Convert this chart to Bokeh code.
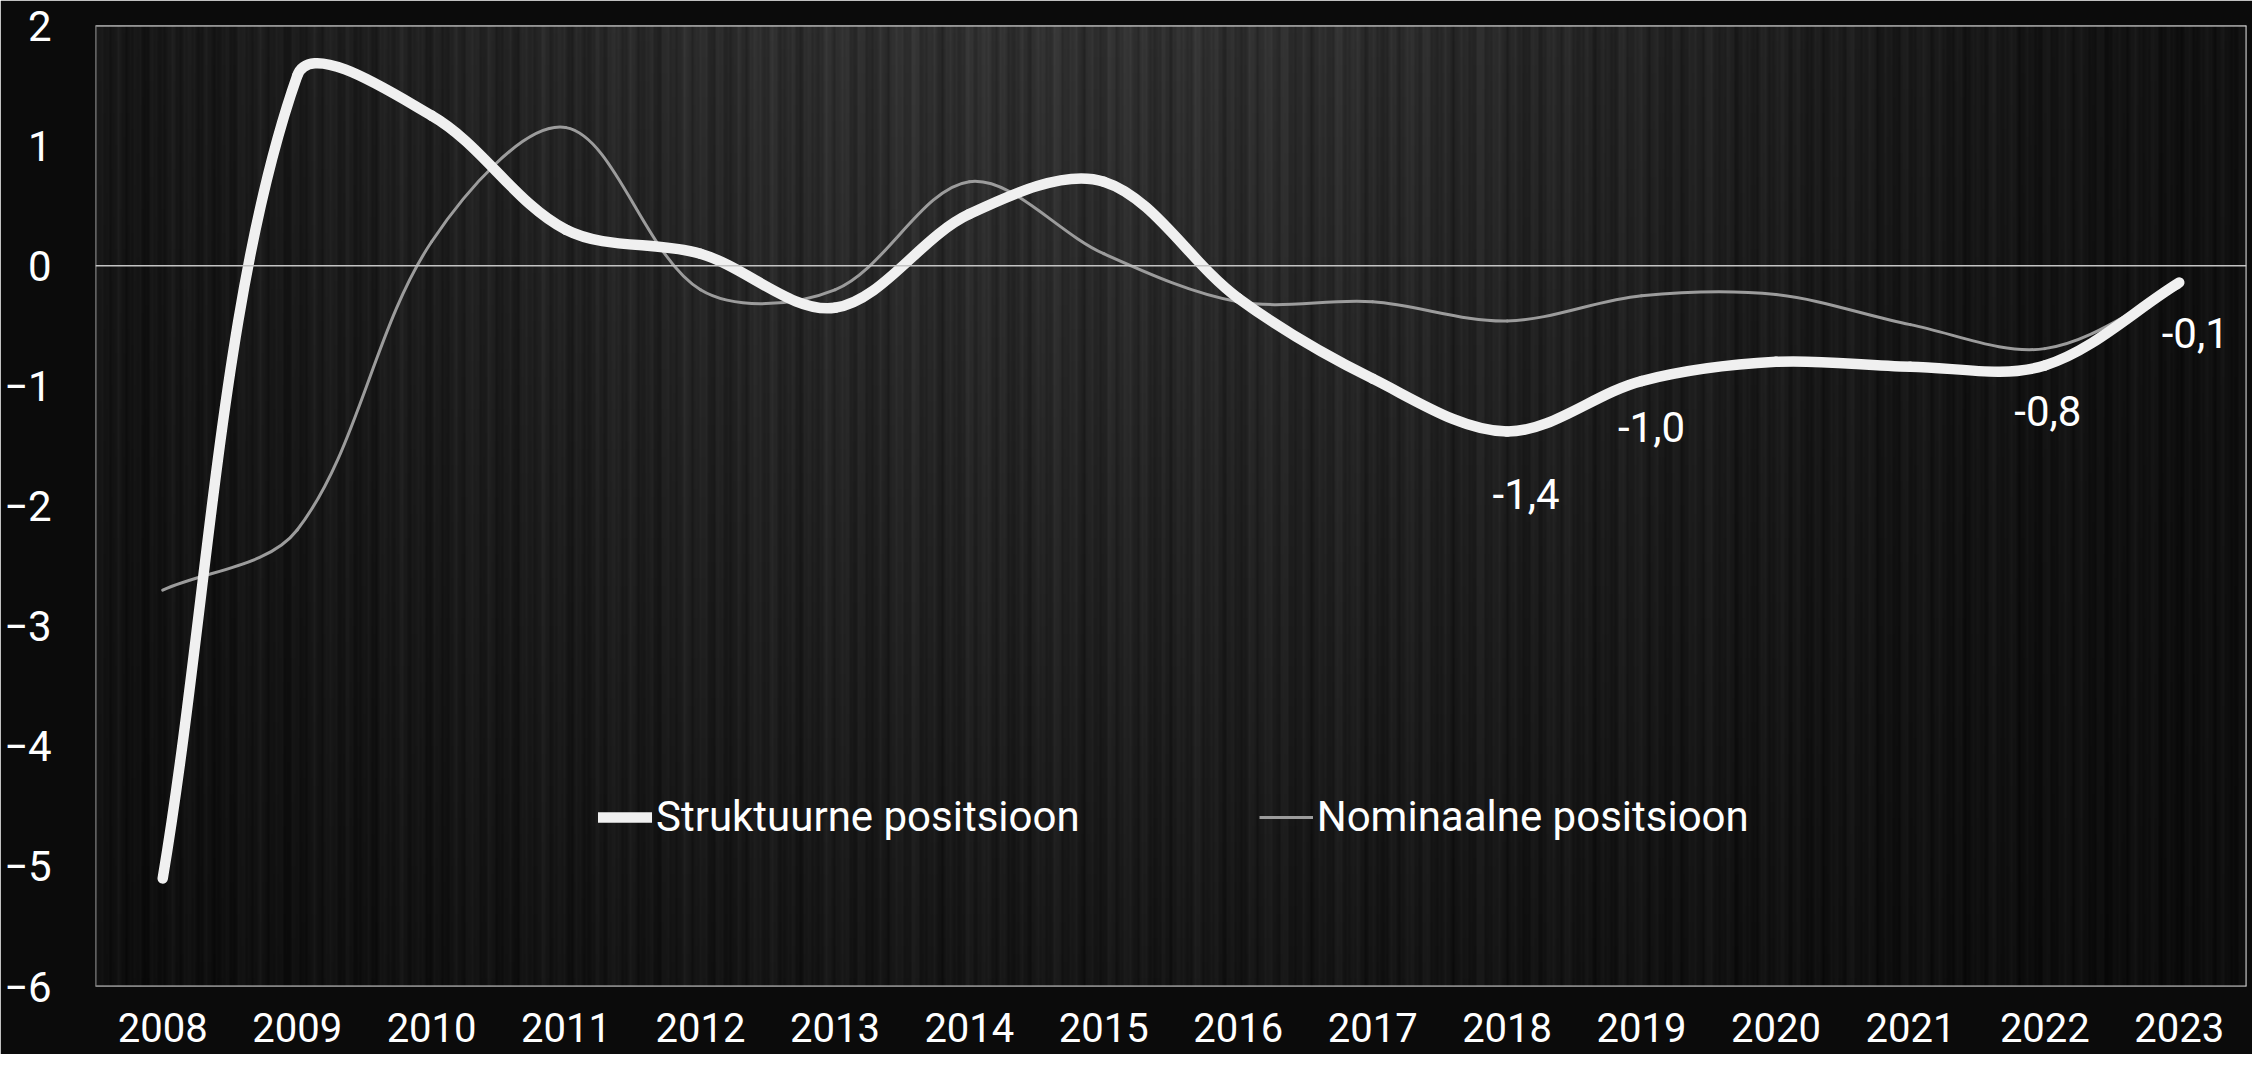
import numpy as np
from bokeh.plotting import figure
from bokeh.models import ColumnDataSource, FixedTicker, Span, Legend, LegendItem
from bokeh.core.properties import value
from bokeh.embed import file_html
from bokeh.resources import INLINE

# ---------------- data ----------------
years = [2008, 2009, 2010, 2011, 2012, 2013, 2014, 2015,
         2016, 2017, 2018, 2019, 2020, 2021, 2022, 2023]
year_labels = [str(y) for y in years]
struktuurne = [-5.1, 1.58, 1.25, 0.3, 0.1, -0.35, 0.43, 0.7,
               -0.27, -0.94, -1.38, -0.96, -0.8, -0.84, -0.83, -0.14]
nominaalne = [-2.7, -2.2, 0.2, 1.15, -0.2, -0.2, 0.7, 0.1,
              -0.3, -0.3, -0.46, -0.25, -0.24, -0.49, -0.69, -0.18]
labelled_years = [2018, 2019, 2022, 2023]
y_ticks = [-6, -5, -4, -3, -2, -1, 0, 1, 2]
series_names = ["Struktuurne positsioon", "Nominaalne positsioon"]

# ---------------- style ----------------
FONT = "Roboto"
FS = "42px"
FS_X = "40px"
label_x_offsets = [19, 10, 3, 16]
label_y_offsets = [62, 46, 46, 50]
PX_X = 134.4   # screen px per year (used for smoothing geometry)
PX_Y = 120.1   # screen px per unit


def smooth_segments(xs, ys):
    """Excel-style smoothed line: cubic Bezier segments through the data points,
    tangents scaled by neighbouring chord lengths (screen space)."""
    n = len(xs)

    def dist(i, j):
        return float(np.hypot((xs[j] - xs[i]) * PX_X, (ys[j] - ys[i]) * PX_Y))

    d = dict(x0=[], y0=[], x1=[], y1=[], cx0=[], cy0=[], cx1=[], cy1=[])
    for i in range(n - 1):
        a = max(i - 1, 0)
        b = min(i + 2, n - 1)
        d_prev, d_cur, d_next = dist(a, i), dist(i, i + 1), dist(i + 1, b)
        f0 = d_cur / (d_prev + d_cur) / 3.0
        f1 = d_cur / (d_cur + d_next) / 3.0
        d["x0"].append(xs[i]); d["y0"].append(ys[i])
        d["x1"].append(xs[i + 1]); d["y1"].append(ys[i + 1])
        d["cx0"].append(xs[i] + (xs[i + 1] - xs[a]) * f0)
        d["cy0"].append(ys[i] + (ys[i + 1] - ys[a]) * f0)
        d["cx1"].append(xs[i + 1] - (xs[b] - xs[i]) * f1)
        d["cy1"].append(ys[i + 1] - (ys[b] - ys[i]) * f1)
    return ColumnDataSource(d)


p = figure(frame_width=2151, frame_height=961,
           x_range=(2007.5, 2023.5), y_range=(-6, 2),
           output_backend="svg", toolbar_location=None,
           min_border_left=83, min_border_top=25, min_border_right=6,
           min_border_bottom=68,
           border_fill_color="#0b0b0b", background_fill_color="#1a1a1a",
           outline_line_color=None)

# brushed-metal like background texture (decoration only)
W, H = 1076, 120
cols = np.arange(W)
xn = cols / W
streak = (0.5 * np.sin(cols * 0.71) + 0.3 * np.sin(cols * 2.31 + 1.0)
          + 0.2 * np.sin(cols * 5.13 + 2.0) + 0.25 * np.sin(cols * 0.173 + 0.5))
rows = np.arange(H)[:, None]
yn = rows / (H - 1)  # 0 bottom, 1 top
glow = np.exp(-((xn[None, :] - 0.45) / 0.42) ** 2) * (0.3 + 0.7 * yn)
base = 10 + 38 * glow + streak[None, :] * (6 + 5 * glow)
base = np.clip(base, 0, 255).astype(np.uint32)
img = (255 << 24) | (base << 16) | (base << 8) | base
p.image_rgba(image=[img.astype(np.uint32)], x=2007.5, y=-6, dw=16, dh=8)

# grid
p.xgrid.visible = False
p.ygrid.ticker = FixedTicker(ticks=[t for t in y_ticks if t not in (0, 2, -6)])
p.ygrid.grid_line_color = "#5a5a5a"
p.ygrid.grid_line_dash = "5 3"
p.ygrid.grid_line_width = 1

# frame borders and zero line
p.add_layout(Span(location=2, dimension="width", line_color="#e6e6e6", line_width=2))
p.add_layout(Span(location=-6, dimension="width", line_color="#c8c8c8", line_width=2))
p.add_layout(Span(location=2007.5, dimension="height", line_color="#808080", line_width=2))
p.add_layout(Span(location=2023.5, dimension="height", line_color="#d0d0d0", line_width=2))
p.add_layout(Span(location=0, dimension="width", line_color="#c4c4c4", line_width=1.5))

# axes
for ax in (p.xaxis[0], p.yaxis[0]):
    ax.axis_line_color = None
    ax.major_tick_line_color = None
    ax.minor_tick_line_color = None
    ax.major_label_text_color = "#ffffff"
    ax.major_label_text_font = FONT
    ax.major_label_text_font_size = FS
p.xaxis.ticker = FixedTicker(ticks=years)
p.xaxis.major_label_overrides = {y: s for y, s in zip(years, year_labels)}
p.xaxis.major_label_text_font_size = FS_X
p.xaxis.major_label_standoff = 20
p.yaxis.ticker = FixedTicker(ticks=y_ticks)
p.yaxis.major_label_standoff = 38

# series
nom_src = smooth_segments(years, nominaalne)
str_src = smooth_segments(years, struktuurne)
p.bezier(x0="x0", y0="y0", x1="x1", y1="y1", cx0="cx0", cy0="cy0",
         cx1="cx1", cy1="cy1", source=nom_src, line_color="#9c9c9c",
         line_width=3, line_cap="round")
p.bezier(x0="x0", y0="y0", x1="x1", y1="y1", cx0="cx0", cy0="cy0",
         cx1="cx1", cy1="cy1", source=str_src, line_color="#f0f0f0",
         line_width=10.5, line_cap="round")

# data labels
lab_vals = [struktuurne[years.index(y)] for y in labelled_years]
lab_txt = [("%.1f" % v).replace(".", ",") for v in lab_vals]
lab_src = ColumnDataSource(dict(x=labelled_years, y=lab_vals, t=lab_txt,
                                xo=label_x_offsets, yo=label_y_offsets))
p.text(x="x", y="y", text="t", x_offset="xo", y_offset="yo", source=lab_src,
       text_align="center", text_baseline="middle", text_color="#ffffff",
       text_font=value(FONT), text_font_size=FS)

# legend (single-point line renderers: invisible in the plot, shown in legend)
leg_s = p.line(x=years[:1], y=struktuurne[:1], line_color="#f0f0f0",
               line_width=10.5, line_cap="round")
leg_n = p.line(x=years[:1], y=nominaalne[:1], line_color="#9c9c9c", line_width=3)
legend = Legend(items=[LegendItem(label=series_names[0], renderers=[leg_s]),
                       LegendItem(label=series_names[1], renderers=[leg_n])],
                orientation="horizontal", location=(503, 145),
                background_fill_alpha=0, border_line_color=None,
                label_text_color="#ffffff", label_text_font=FONT,
                label_text_font_size=FS, glyph_width=54, glyph_height=20,
                spacing=179, label_standoff=4, padding=0, margin=0)
p.add_layout(legend)

open("out.html", "w").write(file_html(p, INLINE))
